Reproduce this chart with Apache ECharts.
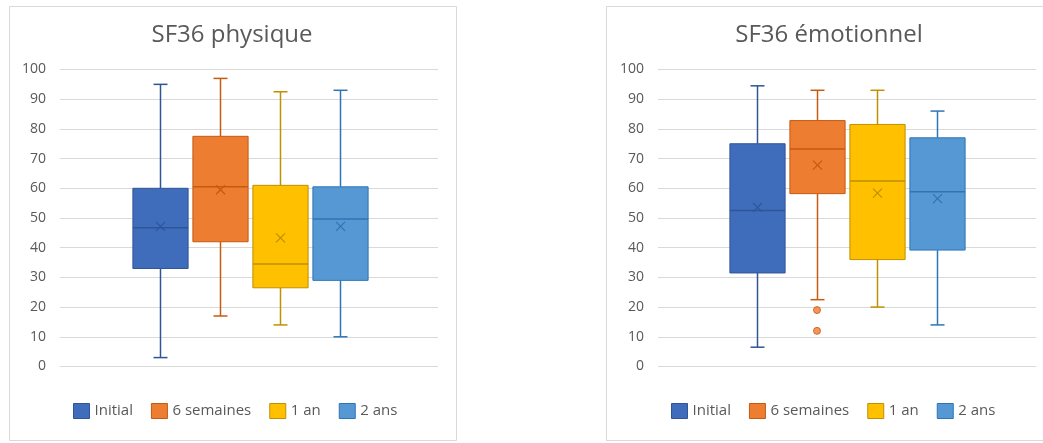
<!DOCTYPE html>
<html>
<head>
<meta charset="utf-8">
<script src="https://cdn.jsdelivr.net/npm/echarts@6/dist/echarts.min.js"></script>
<style>
  html, body { margin: 0; padding: 0; background: #fff; }
  #chart { width: 1043px; height: 443px; }
</style>
</head>
<body>
<div id="chart"></div>
<script>
// Groups (time points)
const groups = ['Initial', '6 semaines', '1 an', '2 ans'];

// Y tick labels
const yTicks = [0, 10, 20, 30, 40, 50, 60, 70, 80, 90, 100];

// SF36 physique: [min, Q1, median, Q3, max] per group, and the means
const physiqueBoxes = [
  [3, 33, 46.7, 60, 95],
  [17, 42, 60.5, 77.5, 97],
  [14, 26.5, 34.5, 61, 92.5],
  [10, 29, 49.7, 60.5, 93]
];
const physiqueMeans = [47.2, 59.5, 43.3, 47.2];

// SF36 émotionnel: [min, Q1, median, Q3, max] per group, and the means
const emotionBoxes = [
  [6.5, 31.5, 52.5, 75, 94.5],
  [22.5, 58.2, 73.2, 82.8, 93],
  [20, 36, 62.5, 81.5, 93],
  [14, 39.2, 58.8, 77, 86]
];
const emotionMeans = [53.6, 67.8, 58.4, 56.5];

// SF36 émotionnel outliers (6 semaines)
const emotionOutliers6sem = [19, 12];

const fills = ['#3F6DBB', '#ED7D31', '#FFC000', '#5598D4'];
const strokes = ['#2F5597', '#C55A11', '#BF9000', '#2E75B6'];
const FONT = "'Open Sans', sans-serif";
const TEXT = '#595959';

function makeRenderer(idx) {
  return function (params, api) {
    const cat = api.value(0);
    const vMin = api.value(1), vQ1 = api.value(2), vMed = api.value(3),
          vQ3 = api.value(4), vMax = api.value(5), vMean = api.value(6);
    const bw = api.size([1, 0])[0] * 0.92;
    const c = Math.round(api.coord([cat, vMed])[0]) + 0.5;
    const y = v => api.coord([cat, v])[1];
    const yMin = y(vMin), yQ1 = y(vQ1), yMed = y(vMed), yQ3 = y(vQ3), yMax = y(vMax), yMean = y(vMean);
    const stroke = strokes[idx];
    const cap = 7, xs = 4.5;
    const line = (x1, y1, x2, y2, w) => ({
      type: 'line',
      shape: { x1, y1, x2, y2 },
      style: { stroke, lineWidth: w || 1.5 }
    });
    return {
      type: 'group',
      children: [
        line(c, yQ3, c, yMax),
        line(c, yQ1, c, yMin),
        line(c - cap, yMax, c + cap, yMax),
        line(c - cap, yMin, c + cap, yMin),
        {
          type: 'rect',
          shape: { x: c - bw / 2, y: yQ3, width: bw, height: yQ1 - yQ3 },
          style: { fill: fills[idx], stroke, lineWidth: 1 }
        },
        line(c - bw / 2, yMed, c + bw / 2, yMed, 1.5),
        line(c - xs, yMean - xs, c + xs, yMean + xs, 1.2),
        line(c - xs, yMean + xs, c + xs, yMean - xs, 1.2)
      ]
    };
  };
}

const legendData = groups.map((g, i) => ({
  name: g,
  itemStyle: { color: fills[i], borderColor: strokes[i], borderWidth: 1 }
}));

function legendAt(left) {
  return {
    data: legendData,
    left, top: 403, padding: 0,
    icon: 'rect', itemWidth: 16, itemHeight: 15, itemGap: 18,
    selectedMode: false,
    textStyle: { fontFamily: FONT, fontSize: 15, color: TEXT }
  };
}

function valueAxis(gridIndex, visible) {
  return {
    gridIndex, type: 'value', min: yTicks[0], max: yTicks[yTicks.length - 1],
    interval: yTicks[1] - yTicks[0],
    show: visible,
    axisLine: { show: false }, axisTick: { show: false },
    axisLabel: { color: TEXT, fontSize: 14, fontFamily: FONT, margin: 14 },
    splitLine: { show: visible, lineStyle: { color: '#d9d9d9', width: 1 } }
  };
}

function boxSeries(boxes, means, axisIndex) {
  return groups.map((g, i) => ({
    type: 'custom', name: g,
    xAxisIndex: axisIndex, yAxisIndex: axisIndex,
    itemStyle: { color: fills[i] },
    renderItem: makeRenderer(i),
    encode: { x: 0, y: [1, 2, 3, 4, 5, 6] },
    data: [[i].concat(boxes[i], [means[i]])],
    z: 3
  }));
}

const chart = echarts.init(document.getElementById('chart'), null, { renderer: 'canvas' });

chart.setOption({
  animation: false,
  backgroundColor: '#fff',
  graphic: [
    { type: 'rect', z: -10, silent: true,
      shape: { x: 9.5, y: 6.5, width: 447, height: 434 },
      style: { fill: '#fff', stroke: '#d9d9d9', lineWidth: 1 } },
    { type: 'rect', z: -10, silent: true,
      shape: { x: 606.5, y: 6.5, width: 460, height: 434 },
      style: { fill: '#fff', stroke: '#d9d9d9', lineWidth: 1 } },
    { type: 'text', x: 232, y: 35, z: 10,
      style: { text: 'SF36 physique', fill: TEXT, font: "24px 'Open Sans', sans-serif", align: 'center', verticalAlign: 'middle' } },
    { type: 'text', x: 829, y: 35, z: 10,
      style: { text: 'SF36 émotionnel', fill: TEXT, font: "24px 'Open Sans', sans-serif", align: 'center', verticalAlign: 'middle' } }
  ],
  legend: [legendAt(73), legendAt(671)],
  grid: [
    { left: 60, top: 69.5, width: 378, height: 297 },
    { left: 129.5, top: 69.5, width: 240, height: 297 },
    { left: 658, top: 69.5, width: 378, height: 297 },
    { left: 727, top: 69.5, width: 240, height: 297 }
  ],
  xAxis: [
    { gridIndex: 0, type: 'category', data: [''], show: false },
    { gridIndex: 1, type: 'category', data: groups, show: false },
    { gridIndex: 2, type: 'category', data: [''], show: false },
    { gridIndex: 3, type: 'category', data: groups, show: false }
  ],
  yAxis: [valueAxis(0, true), valueAxis(1, false), valueAxis(2, true), valueAxis(3, false)],
  series: [].concat(
    boxSeries(physiqueBoxes, physiqueMeans, 1),
    boxSeries(emotionBoxes, emotionMeans, 3),
    [{
      type: 'scatter', name: '6 semaines',
      xAxisIndex: 3, yAxisIndex: 3,
      symbol: 'circle', symbolSize: 7,
      itemStyle: { color: fills[1], borderColor: strokes[1], borderWidth: 1 },
      data: emotionOutliers6sem.map(v => [1, v]),
      z: 4
    }]
  )
});
</script>
</body>
</html>
